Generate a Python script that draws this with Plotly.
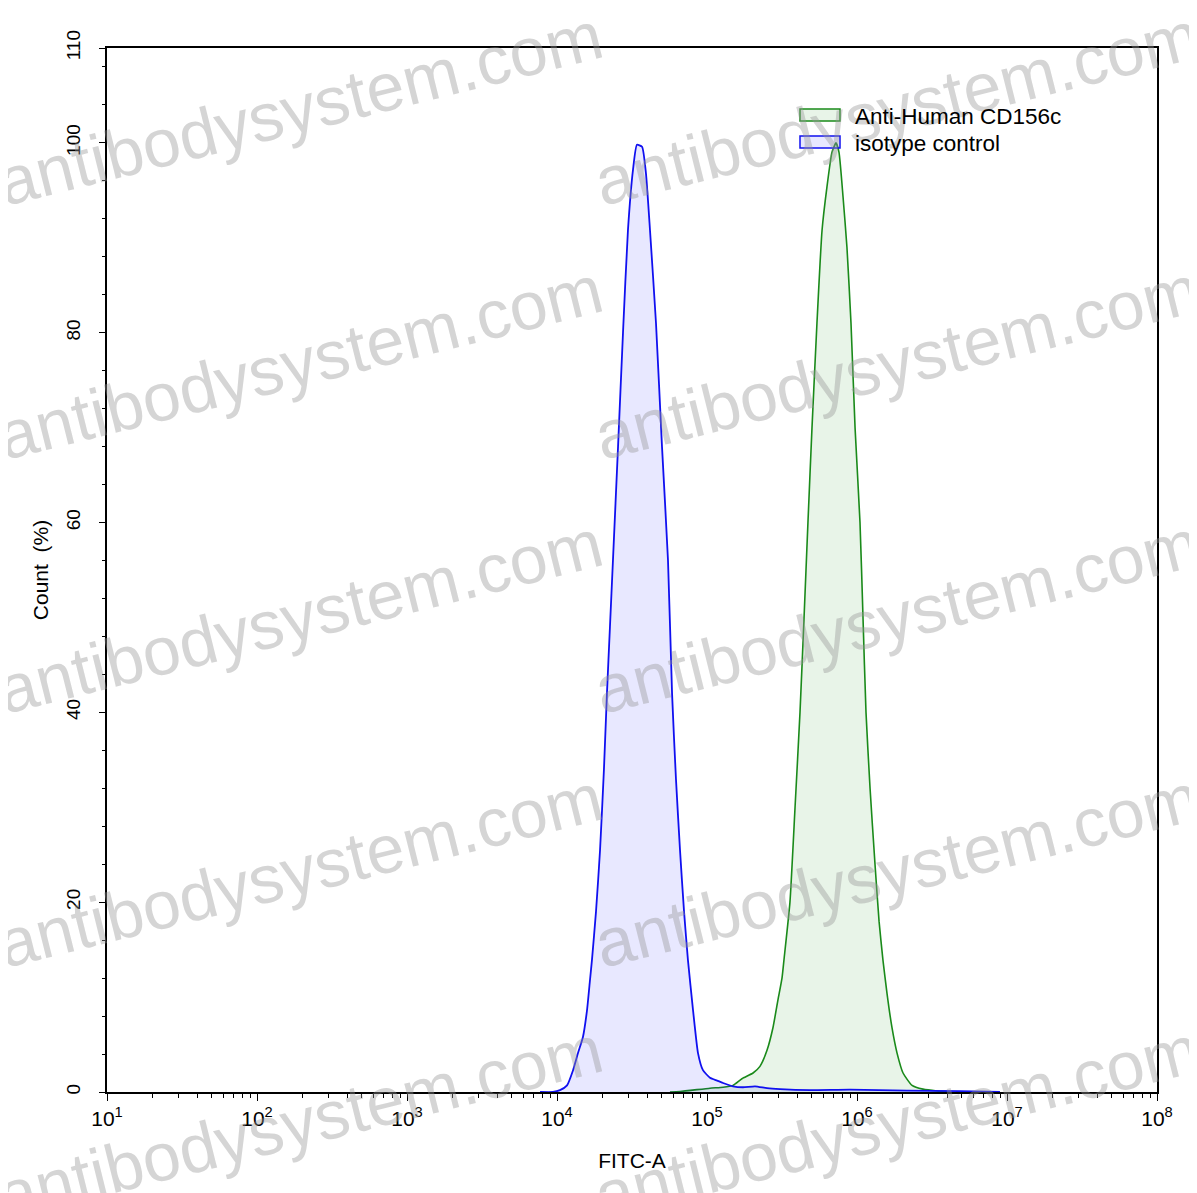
import plotly.graph_objects as go

# ---- data (log10 of FITC-A intensity, % of max count) ----
iso_log = [3.887, 3.973, 4.020, 4.067, 4.107, 4.140, 4.173, 4.200, 4.220, 4.233,
           4.260, 4.287, 4.313, 4.333, 4.353, 4.373, 4.407, 4.440, 4.473, 4.507,
           4.533, 4.567, 4.593, 4.620, 4.660, 4.700, 4.740, 4.767, 4.793, 4.820,
           4.847, 4.873, 4.907, 4.940, 4.973, 5.020, 5.067, 5.107, 5.173, 5.240,
           5.320, 5.400, 5.487, 5.687, 5.953, 6.333, 6.687, 6.953]
iso_pct = [0, 0, 0.2, 0.7, 2.3, 4.1, 5.8, 8.6, 11.8, 13.9,
           19, 25.5, 34, 42, 49, 56, 68, 80, 90.8, 97.2,
           99.8, 99.6, 96.8, 90.8, 81, 68, 56, 42, 33, 25.5,
           19, 13.9, 8.6, 4.1, 2.3, 1.5, 1.2, 0.95, 0.6, 0.5,
           0.6, 0.4, 0.3, 0.2, 0.25, 0.15, 0.1, 0]

cd_log = [4.753, 4.820, 5.020, 5.107, 5.173, 5.233, 5.307, 5.353, 5.400, 5.440,
          5.473, 5.500, 5.513, 5.553, 5.587, 5.620, 5.647, 5.673, 5.700, 5.733,
          5.767, 5.800, 5.833, 5.860, 5.880, 5.907, 5.933, 5.960, 5.987, 6.020,
          6.040, 6.060, 6.087, 6.120, 6.147, 6.173, 6.200, 6.233, 6.267, 6.307,
          6.367, 6.440, 6.533, 6.620]
cd_pct = [0, 0.05, 0.4, 0.5, 0.7, 1.4, 2.0, 2.7, 4.4, 6.8,
          9.7, 12, 13.9, 20, 30, 40, 50, 60, 70, 81,
          90.8, 95.4, 99, 100, 99, 94.3, 89, 81, 70, 60,
          50, 40, 32, 24, 18, 13.9, 10.4, 6.8, 4.1, 2.0,
          0.7, 0.3, 0.1, 0]

series_names = ["Anti-Human CD156c", "isotype control"]
series_lines = ["#1a8a1a", "#1010f0"]
series_fills = ["rgba(0,128,0,0.09)", "rgba(0,0,255,0.09)"]
x_exponents = [1, 2, 3, 4, 5, 6, 7, 8]
y_tickvals = [0, 20, 40, 60, 80, 100, 110]
watermark_text = "antibodysystem.com"

FONT = "Liberation Sans, Arial, sans-serif"

fig = go.Figure()
for xs, ys, nm, lc, fc, lw in [(cd_log, cd_pct, series_names[0], series_lines[0], series_fills[0], 1.6),
                               (iso_log, iso_pct, series_names[1], series_lines[1], series_fills[1], 1.8)]:
    fig.add_trace(go.Scatter(
        x=[10 ** v for v in xs], y=ys, mode="lines", name=nm, showlegend=False,
        line=dict(color=lc, width=lw, shape="spline", smoothing=0.5), fill="toself",
        fillcolor=fc))

minor_x = [m * 10 ** e for e in x_exponents[:-1] for m in range(2, 10)]

fig.update_xaxes(
    type="log", range=[1, 8],
    tickvals=[10 ** e for e in x_exponents],
    ticktext=["10<sup>%d</sup>" % e for e in x_exponents],
    ticks="outside", ticklen=7, tickwidth=1.3, tickcolor="black",
    minor=dict(tickvals=minor_x, ticks="outside", ticklen=4, tickwidth=1, tickcolor="black"),
    showline=True, linecolor="black", linewidth=1.5, mirror=True,
    showgrid=False, zeroline=False,
    tickfont=dict(family=FONT, size=21, color="black"),
    title=dict(text="FITC-A", font=dict(family=FONT, size=21, color="black"), standoff=24),
)
fig.update_yaxes(
    range=[0, 110], tickvals=y_tickvals, ticktext=[str(v) for v in y_tickvals],
    tickangle=-90, ticklabelstandoff=12,
    ticks="outside", ticklen=6, tickwidth=1.3, tickcolor="black",
    minor=dict(dtick=4, tick0=0, ticks="outside", ticklen=3, tickwidth=1, tickcolor="black"),
    showline=True, linecolor="black", linewidth=1.5, mirror=True,
    showgrid=False, zeroline=False,
    tickfont=dict(family=FONT, size=19, color="black"),
    title=dict(text="Count  (%)", font=dict(family=FONT, size=21, color="black"), standoff=8),
)

# page offset (body margin) compensation
OFF = 8
L, R, T, B = 107, 1157, 48, 1092
W, H = 1197, 1193


def px(xp):
    return (xp - L) / (R - L)


def py(yp):
    return (B - yp) / (B - T)


cols_px = [300, 897]
rows_px = [108, 362, 616, 870, 1122]
ann = []
for ry in rows_px:
    for cx in cols_px:
        ann.append(dict(
            text=watermark_text, x=px(cx), y=py(ry),
            xref="paper", yref="paper", showarrow=False, textangle=-14,
            xanchor="center", yanchor="middle",
            font=dict(family=FONT, size=68, color="rgba(150,150,150,0.4)")))

# legend (boxed swatches like the reference)
shapes = []
legend_rows = [115, 142]
for i, nm in enumerate(series_names):
    yc = legend_rows[i]
    shapes.append(dict(type="rect", xref="paper", yref="paper",
                       x0=px(800), x1=px(840), y0=py(yc - 6), y1=py(yc + 6),
                       line=dict(color=series_lines[i], width=1.5), fillcolor=series_fills[i]))
    ann.append(dict(text=nm, x=px(853), y=py(yc + 1), xref="paper", yref="paper",
                    showarrow=False, xanchor="left", yanchor="middle",
                    font=dict(family=FONT, size=22.5, color="black")))

fig.update_layout(
    width=W, height=H,
    margin=dict(l=L - OFF, r=W - R + OFF, t=T - OFF, b=H - B + OFF),
    paper_bgcolor="white", plot_bgcolor="white",
    showlegend=False,
    annotations=ann, shapes=shapes,
)

fig.write_html("out.html")
